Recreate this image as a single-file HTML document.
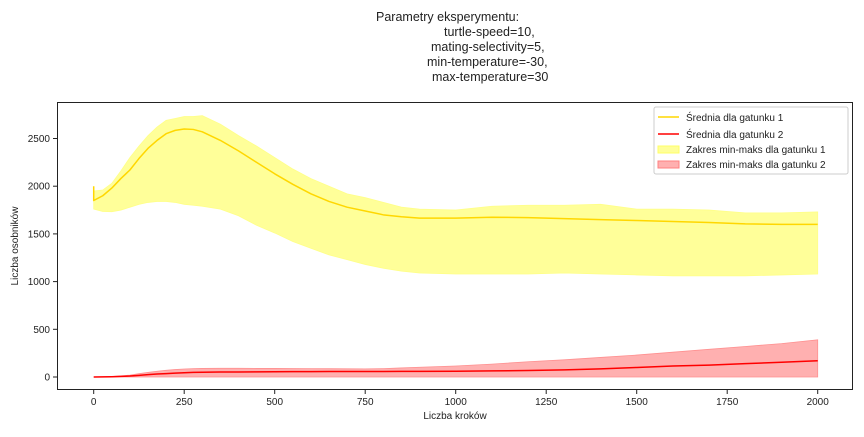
<!DOCTYPE html>
<html><head><meta charset="utf-8"><style>
body{margin:0;background:#fff;font-family:"Liberation Sans",sans-serif;}
svg text{font-family:"Liberation Sans",sans-serif;fill:#222;}
</style></head><body>
<svg id="c" width="864" height="432">
<g font-size="12.5">
<text x="376" y="21">Parametry eksperymentu:</text>
<text x="444" y="36">turtle-speed=10,</text>
<text x="431" y="51">mating-selectivity=5,</text>
<text x="427" y="66">min-temperature=-30,</text>
<text x="432" y="81">max-temperature=30</text>
</g>
<g id="plot"></g>
<rect x="57.5" y="102.5" width="795" height="287" fill="none" stroke="#222" stroke-width="1" shape-rendering="crispEdges"/>
<text x="455" y="419" font-size="10" text-anchor="middle">Liczba kroków</text>
<text transform="translate(18,246) rotate(-90)" font-size="10" text-anchor="middle">Liczba osobników</text>
<g id="xt"></g><g id="yt"></g>
<g>
<rect x="654" y="107" width="194" height="67" fill="#fff" stroke="#ccc" rx="2"/>
<line x1="658" y1="117" x2="679" y2="117" stroke="#FFD700" stroke-width="1.6"/>
<text x="686" y="121" font-size="10">Średnia dla gatunku 1</text>
<line x1="658" y1="134" x2="679" y2="134" stroke="#f00" stroke-width="1.6"/>
<text x="686" y="138" font-size="10">Średnia dla gatunku 2</text>
<rect x="658" y="146" width="21" height="7" fill="#ffff99" stroke="#ffff66"/>
<text x="686" y="153" font-size="10">Zakres min-maks dla gatunku 1</text>
<rect x="658" y="161" width="21" height="7" fill="#ffb0b0" stroke="#ff8080"/>
<text x="686" y="168" font-size="10">Zakres min-maks dla gatunku 2</text>
</g>
</svg>
<script>
const steps=[0,25,50,75,100,125,150,175,200,225,250,275,300,350,400,450,500,550,600,650,700,750,800,850,900,1000,1100,1200,1300,1400,1500,1600,1700,1800,1900,2000];
const mean1=[1850,1900,1980,2080,2170,2290,2397,2480,2550,2585,2600,2595,2570,2480,2370,2250,2130,2020,1920,1840,1780,1740,1700,1680,1665,1665,1675,1670,1660,1650,1640,1630,1620,1605,1600,1600];
const max1=[1950,1960,2030,2160,2300,2420,2530,2620,2690,2710,2730,2730,2740,2650,2530,2420,2300,2180,2080,2000,1920,1880,1830,1780,1760,1750,1790,1800,1800,1810,1760,1760,1750,1720,1720,1730];
const min1=[1760,1735,1733,1750,1780,1810,1830,1840,1840,1830,1810,1800,1790,1760,1690,1590,1510,1420,1350,1280,1230,1180,1140,1110,1090,1080,1080,1080,1090,1080,1070,1060,1060,1060,1070,1080];
const mean2=[0,1,3,6,10,17,25,31,36,41,45,48,50,52,53,54,55,56,56,57,57,58,58,59,59,60,64,68,75,85,100,115,125,140,155,170];
const max2=[0,2,5,12,20,35,48,60,70,78,84,88,90,91,91,90,90,89,88,87,86,85,88,95,102,115,135,160,180,205,230,260,290,320,350,390];
const min2=steps.map(()=>0);
const xTicks=[0,250,500,750,1000,1250,1500,1750,2000];
const yTicks=[0,500,1000,1500,2000,2500];
const X=v=>93.7+v*724/2000, Y=v=>377-v*238.5/2500;
const NS="http://www.w3.org/2000/svg";
const plot=document.getElementById('plot');
function area(hi,lo,fill,stroke,name){
  let d='M'+steps.map((s,i)=>X(s)+','+Y(hi[i])).join('L');
  for(let i=steps.length-1;i>=0;i--) d+='L'+X(steps[i])+','+Y(lo[i]);
  const p=document.createElementNS(NS,'path');p.setAttribute('d',d+'Z');p.setAttribute('fill',fill);p.setAttribute('stroke',stroke);p.setAttribute('stroke-width','0.8');
  
  
  plot.appendChild(p);
}
function line(vals,color,name){
  const p=document.createElementNS(NS,'path');
  let d='M'+X(0)+','+Y(name==='mean-line-1'?2000:0)+'L'+steps.map((s,i)=>X(s)+','+Y(vals[i])).join('L');
  p.setAttribute('d',d);p.setAttribute('fill','none');p.setAttribute('stroke',color);p.setAttribute('stroke-width','1.5');p.setAttribute('stroke-linejoin','round');
  
  
  plot.appendChild(p);
}
area(max1,min1,'#ffff99','#ffff88','range-area-1');
area(max2,min2,'#ffb0b0','#ff9090','range-area-2');
line(mean1,'#FFD700','mean-line-1');
line(mean2,'#ff0000','mean-line-2');
const xt=document.getElementById('xt'),yt=document.getElementById('yt');
xTicks.forEach(v=>{
  const l=document.createElementNS(NS,'line');l.setAttribute('x1',X(v));l.setAttribute('x2',X(v));l.setAttribute('y1',390);l.setAttribute('y2',394);l.setAttribute('stroke','#222');
  
  
  xt.appendChild(l);
  const t=document.createElementNS(NS,'text');t.setAttribute('x',X(v));t.setAttribute('y',405);t.setAttribute('font-size','10');t.setAttribute('text-anchor','middle');t.textContent=v;
  
  
  xt.appendChild(t);
});
yTicks.forEach(v=>{
  const l=document.createElementNS(NS,'line');l.setAttribute('x1',53);l.setAttribute('x2',57);l.setAttribute('y1',Y(v));l.setAttribute('y2',Y(v));l.setAttribute('stroke','#222');
  
  
  yt.appendChild(l);
  const t=document.createElementNS(NS,'text');t.setAttribute('x',50);t.setAttribute('y',Y(v)+3.5);t.setAttribute('font-size','10');t.setAttribute('text-anchor','end');t.textContent=v;
  
  
  yt.appendChild(t);
});
</script>
</body></html>
